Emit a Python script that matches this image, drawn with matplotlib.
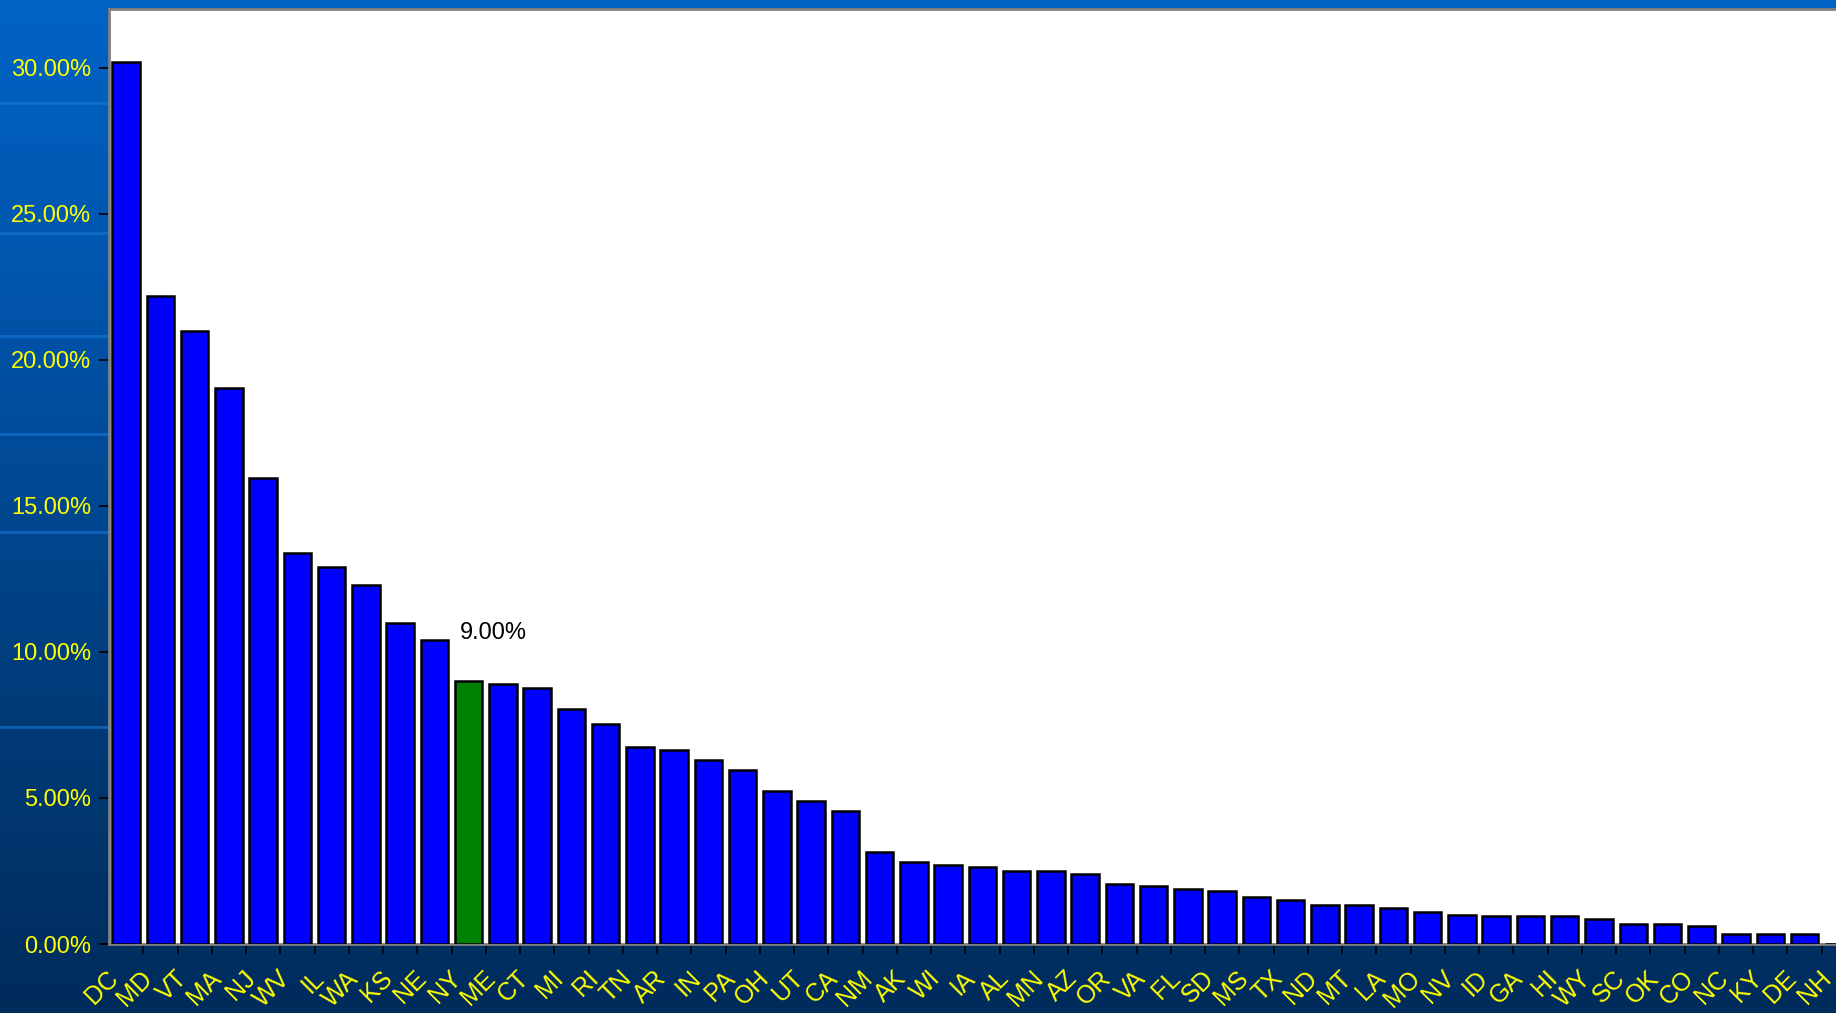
import numpy as np
import matplotlib
matplotlib.use('Agg')
import matplotlib.pyplot as plt
import matplotlib.transforms as mtransforms
from matplotlib.colors import LinearSegmentedColormap

plt.rcParams['font.family'] = ['Liberation Sans', 'DejaVu Sans']

# Data (percent)
states = ['DC', 'MD', 'VT', 'MA', 'NJ', 'WV', 'IL', 'WA', 'KS', 'NE',
          'NY', 'ME', 'CT', 'MI', 'RI', 'TN', 'AR', 'IN', 'PA', 'OH',
          'UT', 'CA', 'NM', 'AK', 'WI', 'IA', 'AL', 'MN', 'AZ', 'OR',
          'VA', 'FL', 'SD', 'MS', 'TX', 'ND', 'MT', 'LA', 'MO', 'NV',
          'ID', 'GA', 'HI', 'WY', 'SC', 'OK', 'CO', 'NC', 'KY', 'DE', 'NH']
values = [30.2, 22.2, 21.0, 19.05, 15.95, 13.4, 12.9, 12.3, 11.0, 10.4,
          9.0, 8.9, 8.75, 8.05, 7.55, 6.75, 6.65, 6.3, 5.95, 5.25,
          4.9, 4.55, 3.15, 2.8, 2.7, 2.65, 2.5, 2.5, 2.4, 2.05,
          2.0, 1.9, 1.8, 1.6, 1.5, 1.35, 1.35, 1.25, 1.1, 1.0,
          0.95, 0.95, 0.95, 0.85, 0.7, 0.7, 0.6, 0.35, 0.35, 0.35, 0.0]
highlight = 'NY'

fig = plt.figure(figsize=(18.36, 10.13), dpi=100)

# slide-style gradient background
bg = fig.add_axes([0, 0, 1, 1], zorder=-10)
cmap = LinearSegmentedColormap.from_list('bg', ['#0063c6', '#0052a6', '#003d7c', '#002c5c'])
grad = np.linspace(0, 1, 256).reshape(-1, 1)
bg.imshow(grad, aspect='auto', cmap=cmap, extent=[0, 1, 0, 1], origin='upper')
for yy in [103, 233, 336, 434, 532, 727]:
    bg.axhline(1 - yy / 1013, color='#1a78d8', lw=2, alpha=0.6)
bg.axhspan(1 - 9 / 1013, 1, color='#0062c4')
bg.set_xlim(0, 1)
bg.set_ylim(0, 1)
bg.axis('off')

ax = fig.add_axes([0.0594, 0.0681, 0.9514, 0.9226])
ax.set_facecolor('white')

x = np.arange(len(states))
colors = ['#008000' if s == highlight else '#0000ff' for s in states]
ax.bar(x, values, width=0.8, color=colors, edgecolor='black', linewidth=1.8, zorder=3)

i = states.index(highlight)
ax.annotate(f'{values[i]:.2f}%', xy=(x[i], values[i]), xytext=(18, 35),
            textcoords='offset points', ha='center', va='center',
            fontsize=17, color='black')

ax.set_xlim(-0.5, len(states) - 0.5)
ax.set_ylim(0, 32)
ax.set_yticks(np.arange(0, 31, 5))
ax.set_yticklabels([f'{v:.2f}%' for v in np.arange(0, 31, 5)])
ax.set_xticks(x)
ax.set_xticklabels(states, rotation=45, ha='right', rotation_mode='anchor')
ax.set_xticks(x[:-1] + 0.5, minor=True)
ax.tick_params(axis='x', which='major', length=0, pad=16, labelsize=18, labelcolor='#ffff00')
ax.tick_params(axis='x', which='minor', length=7, width=1.2, color='black', direction='out')
ax.tick_params(axis='y', length=7, width=1.2, color='black', pad=6, labelsize=17,
               labelcolor='#ffff00')

# nudge rotated labels left so they sit like the original
shift = mtransforms.ScaledTranslation(-0.20, 0, fig.dpi_scale_trans)
for lab in ax.get_xticklabels():
    lab.set_transform(lab.get_transform() + shift)

for side in ['top', 'left', 'bottom']:
    ax.spines[side].set_color('#808080')
    ax.spines[side].set_linewidth(2)
ax.spines['right'].set_visible(False)

fig.savefig('out.png', dpi=100)
